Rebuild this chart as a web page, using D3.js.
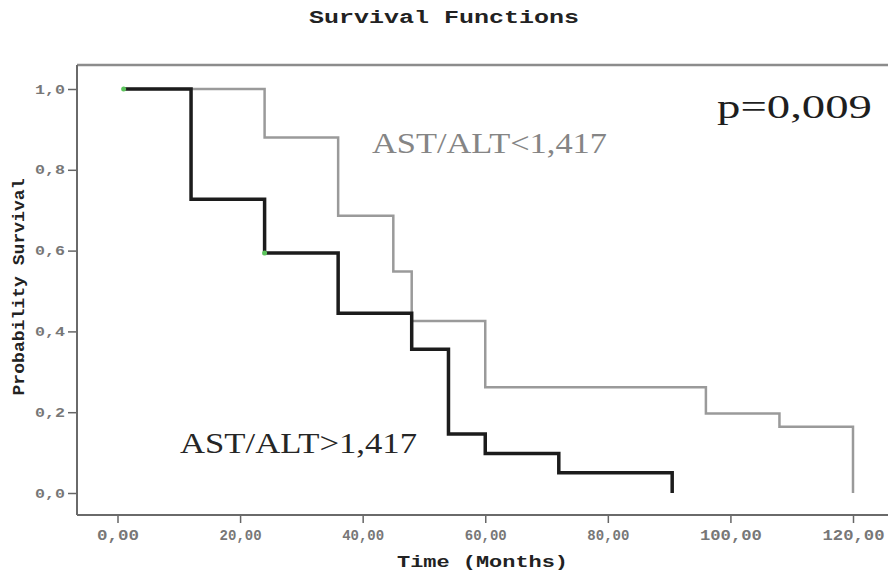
<!DOCTYPE html>
<html>
<head>
<meta charset="utf-8">
<script src="https://cdn.jsdelivr.net/npm/d3@7"></script>
<style>
  body { margin: 0; background: #fff; }
  .mono { font-family: "Liberation Mono", "DejaVu Sans Mono", monospace; font-weight: bold; }
  .serif { font-family: "Liberation Serif", "DejaVu Serif", serif; }
</style>
</head>
<body>
<div id="vis"></div>
<script>
// survival curves, SPSS style

// declare constants
const FRAME_HEIGHT = 575;
const FRAME_WIDTH = 888;

// plot box (axis lines + top border)
const BOX = {left: 77, top: 65, bottom: 515, right: 892};

// data
const X_TICKS = [0, 20, 40, 60, 80, 100, 120];
const Y_TICKS = [0, 0.2, 0.4, 0.6, 0.8, 1.0];

// AST/ALT<1,417 (grey)
const LOW_START = 1;
const LOW_TIMES = [24, 36, 45, 48, 60, 96, 108, 120];
const LOW_SURV = [0.88, 0.686, 0.548, 0.426, 0.262, 0.197, 0.164, 0.0];

// AST/ALT>1,417 (black)
const HIGH_START = 1;
const HIGH_TIMES = [12, 24, 36, 48, 54, 60, 72, 90.5];
const HIGH_SURV = [0.727, 0.594, 0.445, 0.356, 0.146, 0.098, 0.05, 0.0];

// censored marks
const CENSOR_TIMES = [1, 24];
const CENSOR_SURV = [1.0, 0.594];

// create frame
const FRAME = d3.select("#vis")
          .append("svg")
            .attr("height", FRAME_HEIGHT)
            .attr("width", FRAME_WIDTH);

// scaling functions
const X_SCALE = d3.scaleLinear()
          .domain([0, 120])
          .range([117.5, 853]);

const Y_SCALE = d3.scaleLinear()
          .domain([0, 1])
          .range([493, 89]);

// build step points for a curve
function steps(start, times, surv) {
  let pts = [[start, 1.0]];
  let prev = 1.0;
  for (let i = 0; i < times.length; i++) {
    pts.push([times[i], prev]);
    pts.push([times[i], surv[i]]);
    prev = surv[i];
  }
  return pts;
}

const line = d3.line()
          .x(d => X_SCALE(d[0]))
          .y(d => Y_SCALE(d[1]));

// title
FRAME.append("text")
    .attr("class", "mono")
    .attr("x", 444)
    .attr("y", 23)
    .attr("text-anchor", "middle")
    .attr("font-size", 19)
    .attr("textLength", 270)
    .attr("lengthAdjust", "spacingAndGlyphs")
    .attr("fill", "#222")
    .text("Survival Functions");

// top border
FRAME.append("line")
    .attr("x1", BOX.left).attr("x2", BOX.right)
    .attr("y1", BOX.top).attr("y2", BOX.top)
    .attr("stroke", "#8c8c8c")
    .attr("stroke-width", 2.5);

// y-axis
const yAxis = FRAME.append("g")
    .attr("transform", "translate(" + BOX.left + ",0)")
    .call(d3.axisLeft(Y_SCALE)
        .tickValues(Y_TICKS)
        .tickSize(9)
        .tickPadding(3)
        .tickFormat(d => d.toFixed(1).replace(".", ",")));

yAxis.select(".domain").remove();
yAxis.selectAll(".tick line").attr("stroke", "#666").attr("stroke-width", 1.5);
yAxis.selectAll(".tick text")
    .attr("class", "mono")
    .attr("font-size", 13)
    .attr("fill", "#777")
    .attr("textLength", 30)
    .attr("lengthAdjust", "spacingAndGlyphs");

// x-axis
const xAxis = FRAME.append("g")
    .attr("transform", "translate(0," + BOX.bottom + ")")
    .call(d3.axisBottom(X_SCALE)
        .tickValues(X_TICKS)
        .tickSize(8)
        .tickFormat(d => d.toFixed(2).replace(".", ",")));

xAxis.select(".domain").remove();
xAxis.selectAll(".tick line").attr("stroke", "#666").attr("stroke-width", 1.5);
xAxis.selectAll(".tick text")
    .attr("class", "mono")
    .attr("font-size", 14)
    .attr("fill", "#777")
    .attr("y", 25)
    .attr("dy", 0)
    .attr("textLength", d => d >= 100 ? 62 : 42)
    .attr("lengthAdjust", "spacingAndGlyphs");

// axis lines
FRAME.append("line")
    .attr("x1", BOX.left).attr("x2", BOX.left)
    .attr("y1", BOX.top).attr("y2", BOX.bottom)
    .attr("stroke", "#6a6a6a")
    .attr("stroke-width", 2);

FRAME.append("line")
    .attr("x1", BOX.left).attr("x2", BOX.right)
    .attr("y1", BOX.bottom).attr("y2", BOX.bottom)
    .attr("stroke", "#6a6a6a")
    .attr("stroke-width", 2);

// axis titles
FRAME.append("text")
    .attr("class", "mono")
    .attr("x", 397)
    .attr("y", 567)
    .attr("font-size", 17)
    .attr("textLength", 171)
    .attr("lengthAdjust", "spacingAndGlyphs")
    .attr("fill", "#222")
    .text("Time (Months)");

FRAME.append("text")
    .attr("class", "mono")
    .attr("transform", "translate(24,287) rotate(-90)")
    .attr("text-anchor", "middle")
    .attr("font-size", 16)
    .attr("textLength", 217)
    .attr("lengthAdjust", "spacingAndGlyphs")
    .attr("fill", "#222")
    .text("Probability Survival");

// plot curves
FRAME.append("path")
    .attr("d", line(steps(LOW_START, LOW_TIMES, LOW_SURV)))
    .attr("fill", "none")
    .attr("stroke", "#9a9a9a")
    .attr("stroke-width", 2.5);

FRAME.append("path")
    .attr("d", line(steps(HIGH_START, HIGH_TIMES, HIGH_SURV)))
    .attr("fill", "none")
    .attr("stroke", "#1c1c1c")
    .attr("stroke-width", 3.5);

// censor marks
FRAME.selectAll(".censor")
    .data(CENSOR_TIMES)
    .enter().append("circle")
      .attr("class", "censor")
      .attr("cx", d => X_SCALE(d))
      .attr("cy", (d, i) => Y_SCALE(CENSOR_SURV[i]))
      .attr("r", 2.5)
      .attr("fill", "#5cc45c");

// annotations
FRAME.append("text")
    .attr("class", "serif")
    .attr("x", 372)
    .attr("y", 153)
    .attr("font-size", 30)
    .attr("textLength", 235)
    .attr("lengthAdjust", "spacingAndGlyphs")
    .attr("fill", "#858585")
    .text("AST/ALT<1,417");

FRAME.append("text")
    .attr("class", "serif")
    .attr("x", 180)
    .attr("y", 453)
    .attr("font-size", 30)
    .attr("textLength", 237)
    .attr("lengthAdjust", "spacingAndGlyphs")
    .attr("fill", "#262626")
    .text("AST/ALT>1,417");

FRAME.append("text")
    .attr("class", "serif")
    .attr("x", 717)
    .attr("y", 118)
    .attr("font-size", 34)
    .attr("textLength", 155)
    .attr("lengthAdjust", "spacingAndGlyphs")
    .attr("fill", "#1e1e1e")
    .text("p=0,009");
</script>
</body>
</html>
